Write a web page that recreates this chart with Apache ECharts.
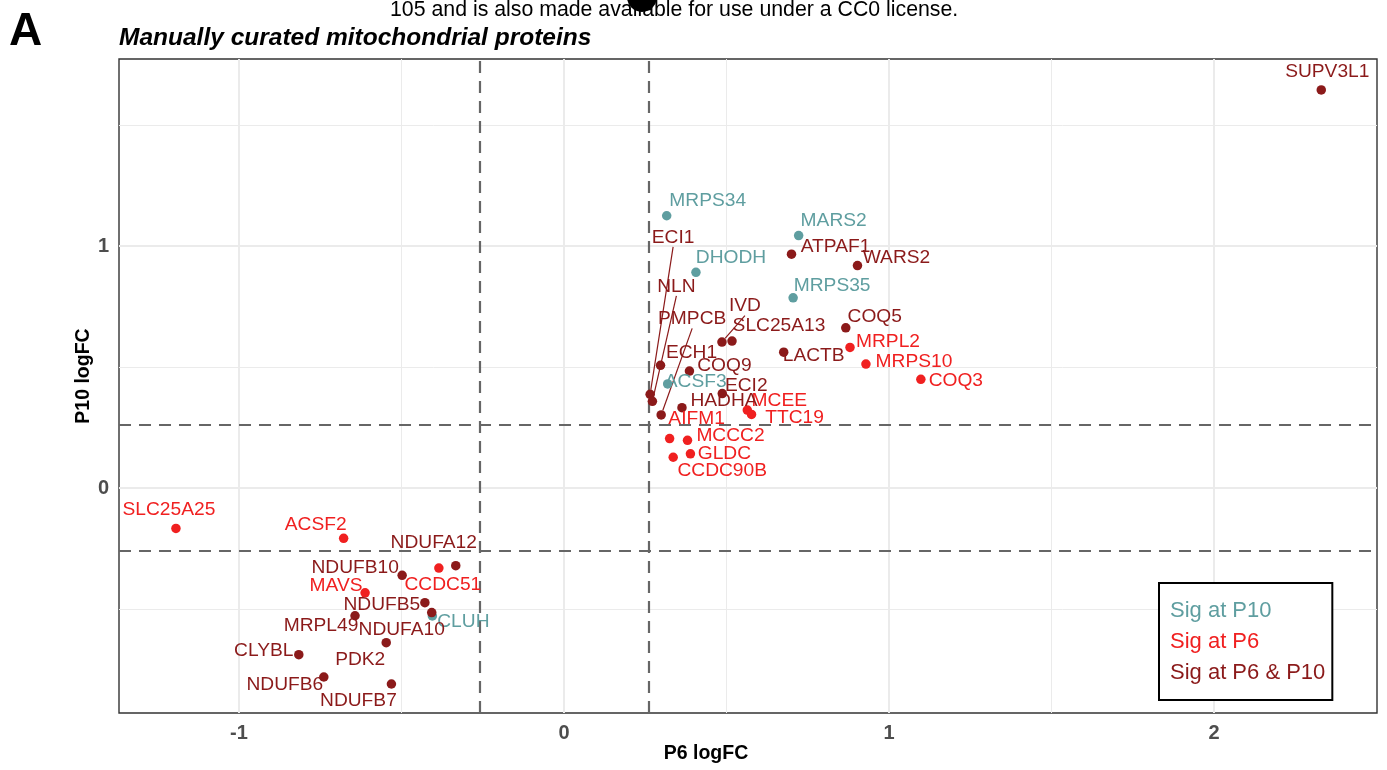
<!DOCTYPE html>
<html>
<head>
<meta charset="utf-8">
<script src="https://cdn.jsdelivr.net/npm/echarts@6/dist/echarts.min.js"></script>
<style>
html,body{margin:0;padding:0;background:#fff;}
#chart{width:1387px;height:770px;}
</style>
</head>
<body>
<div id="chart"></div>
<script>
// ---------- DATA ----------
const GENES = ['MRPS34','MARS2','DHODH','MRPS35','ACSF3','CLUH',
  'MRPL2','MRPS10','COQ3','MCEE','TTC19','AIFM1','MCCC2','GLDC','CCDC90B','SLC25A25','ACSF2','CCDC51','MAVS',
  'SUPV3L1','ATPAF1','WARS2','ECI1','NLN','IVD','PMPCB','COQ5','SLC25A13','LACTB','ECH1','COQ9','ECI2','HADHA',
  'NDUFA12','NDUFB10','NDUFB5','NDUFA10','MRPL49','PDK2','CLYBL','NDUFB6','NDUFB7'];
const P6_LOGFC = [0.316,0.722,0.406,0.705,0.319,-0.405,
  0.880,0.929,1.098,0.564,0.577,0.325,0.380,0.389,0.336,-1.194,-0.678,-0.385,-0.612,
  2.330,0.700,0.903,0.265,0.272,0.486,0.299,0.867,0.517,0.676,0.297,0.386,0.487,0.363,
  -0.333,-0.498,-0.428,-0.407,-0.643,-0.547,-0.816,-0.739,-0.531];
const P10_LOGFC = [1.125,1.043,0.891,0.786,0.430,-0.529,
  0.581,0.512,0.449,0.322,0.304,0.204,0.197,0.141,0.127,-0.167,-0.208,-0.331,-0.433,
  1.645,0.966,0.919,0.387,0.358,0.603,0.302,0.662,0.607,0.561,0.507,0.483,0.390,0.332,
  -0.321,-0.361,-0.474,-0.515,-0.528,-0.639,-0.689,-0.781,-0.810];
const SIG_GROUP = ['P10','P10','P10','P10','P10','P10',
  'P6','P6','P6','P6','P6','P6','P6','P6','P6','P6','P6','P6','P6',
  'both','both','both','both','both','both','both','both','both','both','both','both','both','both',
  'both','both','both','both','both','both','both','both','both'];
const GROUP_KEYS = ['P10','P6','both'];
const GROUP_NAMES = ['Sig at P10','Sig at P6','Sig at P6 & P10'];
const X_TICKS = [-1,0,1,2];
const Y_TICKS = [0,1];
const X_MINOR = [-0.5,0.5,1.5];
const Y_MINOR = [-0.5,0.5,1.5];
const THRESHOLD = 0.263; // log2(1.2)

// ---------- LAYOUT / STYLE ----------
const COLORS = ['#5F9EA0','#F02020','#8B1A1A'];
const FONT = "'Liberation Sans', Arial, sans-serif";
const X_RANGE = [-1.3692, 2.5015];
const Y_RANGE = [-0.9298, 1.7727];
// label offsets (pixels, label centre relative to point) – repel layout
const LABEL_OFFSET = {
  MRPS34:[41,-15], MARS2:[35,-15], DHODH:[35,-15], MRPS35:[39,-12], ACSF3:[28,-2], CLUH:[31,6],
  MRPL2:[38,-6], MRPS10:[48,-2], COQ3:[35,1], MCEE:[32,-9], TTC19:[43,3], AIFM1:[27,-20],
  MCCC2:[43,-5], GLDC:[34,0], CCDC90B:[49,13], SLC25A25:[-7,-19], ACSF2:[-28,-14], CCDC51:[4,17], MAVS:[-29,-7],
  SUPV3L1:[6,-18], ATPAF1:[44,-8], WARS2:[39,-8], ECI1:[23,-157], NLN:[24,-115], IVD:[23,-36], PMPCB:[31,-96],
  COQ5:[29,-11], SLC25A13:[47,-15], LACTB:[30,3], ECH1:[31,-13], COQ9:[35,-5], ECI2:[24,-8], HADHA:[42,-7],
  NDUFA12:[-22,-23], NDUFB10:[-47,-8], NDUFB5:[-43,2], NDUFA10:[-30,17], MRPL49:[-34,10], PDK2:[-26,17],
  CLYBL:[-35,-4], NDUFB6:[-39,8], NDUFB7:[-33,17]
};
const WITH_SEGMENT = ['ECI1','NLN','IVD','PMPCB'];

const chart = echarts.init(document.getElementById('chart'), null, {renderer:'canvas'});

function vLine(v, style){ return {xAxis: v, lineStyle: style}; }
function hLine(v, style){ return {yAxis: v, lineStyle: style}; }
const majorStyle = {color:'#EBEBEB', width:2, type:'solid'};
const minorStyle = {color:'#EBEBEB', width:1, type:'solid'};
const dashStyle = {color:'#666666', width:2.2, type:[12,8]};

const gridLines = []
  .concat(X_MINOR.map(v=>vLine(v,minorStyle)))
  .concat(Y_MINOR.map(v=>hLine(v,minorStyle)))
  .concat(X_TICKS.map(v=>vLine(v,majorStyle)))
  .concat(Y_TICKS.map(v=>hLine(v,majorStyle)));
const thresholdLines = [vLine(-THRESHOLD,dashStyle), vLine(THRESHOLD,dashStyle),
  hLine(-THRESHOLD,dashStyle), hLine(THRESHOLD,dashStyle)];

const pointSeries = GROUP_KEYS.map(function(key, gi){
  const idx = [];
  SIG_GROUP.forEach(function(g,i){ if(g===key) idx.push(i); });
  const names = idx.map(i=>GENES[i]);
  return {
    name: GROUP_NAMES[gi],
    type: 'scatter',
    z: 5,
    symbol: 'circle',
    symbolSize: 9.5,
    itemStyle: {color: COLORS[gi], opacity: 1},
    emphasis: {disabled: true},
    label: {show: true, position: 'inside', formatter: '{b}', color: COLORS[gi],
      fontSize: 19.2, fontFamily: FONT},
    labelLine: {show: false, lineStyle: {color: COLORS[gi], width: 1.2}},
    labelLayout: function(p){ const o = LABEL_OFFSET[names[p.dataIndex]] || [0,0]; return {dx:o[0], dy:o[1]}; },
    data: idx.map(function(i){
      return {name: GENES[i], value: [P6_LOGFC[i], P10_LOGFC[i]],
        labelLine: {show: WITH_SEGMENT.indexOf(GENES[i]) >= 0}};
    })
  };
});

const option = {
  animation: false,
  backgroundColor: '#ffffff',
  textStyle: {fontFamily: FONT},
  title: [
    {text: 'A', left: 9, top: 9, padding: 0,
      textStyle: {fontSize: 46, lineHeight: 46, fontWeight: 'bold', color: '#000', fontFamily: FONT}},
    {text: 'Manually curated mitochondrial proteins', left: 119, top: 26, padding: 0,
      textStyle: {fontSize: 24.5, lineHeight: 24, fontWeight: 'bold', fontStyle: 'italic', color: '#000', fontFamily: FONT}},
    {text: '105 and is also made available for use under a CC0 license.', left: 390, top: 0, padding: 0,
      textStyle: {fontSize: 21.3, lineHeight: 21, fontWeight: 'normal', color: '#000', fontFamily: FONT}}
  ],
  graphic: [
    {type: 'circle', shape: {cx: 642, cy: -3, r: 15}, style: {fill: '#000'}, z: -1, silent: true}
  ],
  grid: {left: 119, right: 10, top: 59, bottom: 57, show: true,
    backgroundColor: '#ffffff', borderColor: '#333333', borderWidth: 1.4},
  legend: {
    left: 1159, top: 583, orient: 'vertical', selectedMode: false, z: 50,
    itemWidth: 0, itemHeight: 0, itemGap: 9,
    padding: [17, 7, 16, 6], borderColor: '#000', borderWidth: 2, backgroundColor: '#fff',
    textStyle: {fontSize: 22, lineHeight: 22, fontFamily: FONT},
    data: GROUP_NAMES.map((n,i)=>({name: n, icon: 'rect', textStyle: {color: COLORS[i]}}))
  },
  xAxis: {
    type: 'value', min: X_RANGE[0], max: X_RANGE[1],
    name: 'P6 logFC', nameLocation: 'middle', nameGap: 31, nameMoveOverlap: false,
    nameTextStyle: {fontSize: 19.5, fontWeight: 'bold', color: '#000', fontFamily: FONT, padding: [0, 84, 0, 0]},
    splitLine: {show: false},
    axisLine: {show: false},
    axisTick: {show: true, customValues: X_TICKS, length: 6, lineStyle: {color: '#333', width: 1.6}},
    axisLabel: {customValues: X_TICKS, margin: 10, fontSize: 20, fontWeight: 'bold', color: '#4D4D4D', fontFamily: FONT,
      formatter: v => String(v)}
  },
  yAxis: {
    type: 'value', min: Y_RANGE[0], max: Y_RANGE[1],
    name: 'P10 logFC', nameLocation: 'middle', nameGap: 25, nameMoveOverlap: false,
    nameTextStyle: {fontSize: 19.5, fontWeight: 'bold', color: '#000', fontFamily: FONT, padding: [0, 0, 0, 20]},
    splitLine: {show: false},
    axisLine: {show: false},
    axisTick: {show: true, customValues: Y_TICKS, length: 6, lineStyle: {color: '#333', width: 1.6}},
    axisLabel: {customValues: Y_TICKS, margin: 10, fontSize: 20, fontWeight: 'bold', color: '#4D4D4D', fontFamily: FONT,
      formatter: v => String(v)}
  },
  series: [
    {type: 'scatter', name: '_grid', data: [], z: 1, silent: true,
      markLine: {silent: true, symbol: ['none','none'], label: {show: false}, animation: false, data: gridLines}},
    {type: 'scatter', name: '_thr', data: [], z: 2, silent: true,
      markLine: {silent: true, symbol: ['none','none'], label: {show: false}, animation: false, data: thresholdLines}}
  ].concat(pointSeries)
};
chart.setOption(option);
</script>
</body>
</html>
